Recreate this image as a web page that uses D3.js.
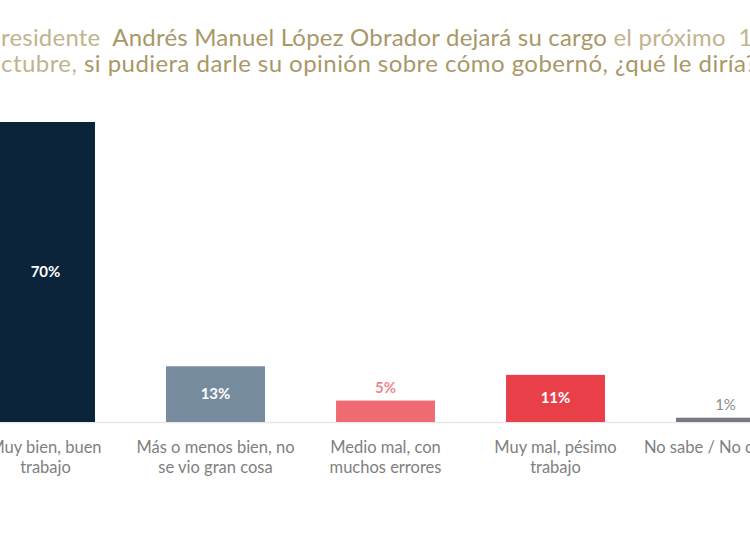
<!DOCTYPE html>
<html>
<head>
<meta charset="utf-8">
<script src="https://cdn.jsdelivr.net/npm/d3@7"></script>
<style>
  body { margin: 0; background: #fff; }
  svg { display: block; font-family: Lato, 'Noto Sans', sans-serif; }
</style>
</head>
<body>
<svg></svg>
<script>
const svg = d3.select('svg')
	.attr('width', 750)
	.attr('height', 536);

// data
const categories = ['Muy bien, buen trabajo', 'Más o menos bien, no se vio gran cosa', 'Medio mal, con muchos errores', 'Muy mal, pésimo trabajo', 'No sabe / No contesta'];
const labelLines = [['Muy bien, buen', 'trabajo'], ['Más o menos bien, no', 'se vio gran cosa'], ['Medio mal, con', 'muchos errores'], ['Muy mal, pésimo', 'trabajo'], ['No sabe / No contesta']];
const values = [70, 13, 5, 11, 1];
const barColors = ['#0b243a', '#778b9f', '#f06a72', '#e93f49', '#767a80'];
const insideLabel = [true, true, false, true, false];
const labelColors = ['#fff', '#fff', '#f0868c', '#fff', '#8c8c8c'];

const titleLines = [
	[['El presidente  ', 'light'], ['Andrés Manuel López Obrador dejará su cargo', 'dark'], [' el próximo  1 de', 'light']],
	[['octubre, ', 'light'], ['si pudiera darle su opinión sobre cómo gobernó, ¿qué le diría?', 'dark']]
];
const hiddenPrefix = ['El p', 'o'];

const baseY = 422;

const x = d3.scaleBand()
	.domain(categories)
	.range([-39.5, 810.5])
	.paddingInner(0.418)
	.paddingOuter(0.209);

const y = d3.scaleLinear()
	.domain([0, 70])
	.range([baseY, 122]);

// title
titleLines.forEach((line, i) => {
	const t = svg.append('text')
		.attr('y', [46, 72][i])
		.attr('font-size', 24)
		.attr('letter-spacing', [0.2, 0.45][i])
		.style('white-space', 'pre');
	line.forEach(([txt, tone]) => {
		t.append('tspan')
			.attr('fill', tone === 'dark' ? '#a89868' : '#c0b48e')
			.text(txt);
	});
	// shift so the visible start matches the cropped original
	const pre = t.node().getSubStringLength(0, hiddenPrefix[i].length);
	t.attr('x', 1 - pre);
});

// baseline
svg.append('line')
	.attr('x1', 0).attr('x2', 750)
	.attr('y1', baseY + 0.5).attr('y2', baseY + 0.5)
	.attr('stroke', '#e8e8e8')
	.attr('stroke-width', 1.5);

// bars
svg.selectAll('rect.bar')
	.data(categories)
	.join('rect')
	.attr('class', 'bar')
	.attr('x', d => x(d))
	.attr('width', x.bandwidth())
	.attr('y', (d, i) => y(values[i]))
	.attr('height', (d, i) => baseY - y(values[i]))
	.attr('fill', (d, i) => barColors[i]);

// value labels
svg.selectAll('text.val')
	.data(categories)
	.join('text')
	.attr('class', 'val')
	.attr('x', d => x(d) + x.bandwidth() / 2)
	.attr('y', (d, i) => insideLabel[i]
		? (y(values[i]) + baseY) / 2 + 5
		: y(values[i]) - 8)
	.attr('text-anchor', 'middle')
	.attr('font-size', 15)
	.attr('font-weight', (d, i) => i === 4 ? 400 : 700)
	.attr('fill', (d, i) => labelColors[i])
	.text((d, i) => values[i] + '%');

// category labels
const lab = svg.selectAll('text.cat')
	.data(categories)
	.join('text')
	.attr('class', 'cat')
	.attr('text-anchor', 'middle')
	.attr('font-size', 16.5)
	.attr('fill', '#808080');

lab.selectAll('tspan')
	.data((d, i) => labelLines[i].map(s => ({ s, cx: x(d) + x.bandwidth() / 2 })))
	.join('tspan')
	.attr('x', d => d.cx)
	.attr('y', (d, j) => 453 + j * 20)
	.text(d => d.s);
</script>
</body>
</html>
